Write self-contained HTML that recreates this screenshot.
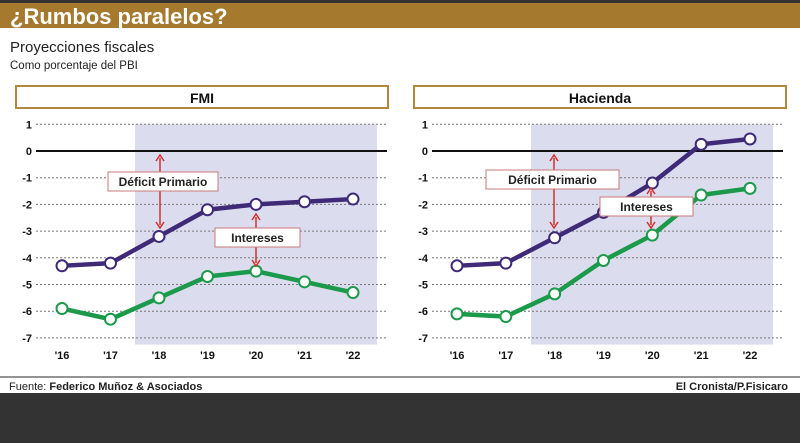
<!DOCTYPE html>
<html><head><meta charset="utf-8"><style>
body{margin:0;width:800px;height:443px;overflow:hidden;background:#fff;font-family:"Liberation Sans",sans-serif}
svg{display:block}
</style></head><body>
<svg id="c" width="800" height="443" xmlns="http://www.w3.org/2000/svg">
<rect x="0" y="0" width="800" height="3" fill="#333"/>
<rect x="0" y="3" width="800" height="25" fill="#a67a2e"/>
<text x="10" y="24" font-size="22" font-weight="bold" fill="#fff">¿Rumbos paralelos?</text>
<text x="10" y="52" font-size="15" fill="#222">Proyecciones fiscales</text>
<text x="10" y="69" font-size="11.5" fill="#222">Como porcentaje del PBI</text>
<line x1="0" y1="377" x2="800" y2="377" stroke="#555" stroke-width="1.2"/>
<text x="9" y="390" font-size="11" fill="#222">Fuente: <tspan font-weight="bold">Federico Muñoz &amp; Asociados</tspan></text>
<text x="788" y="390" font-size="11" font-weight="bold" fill="#222" text-anchor="end">El Cronista/P.Fisicaro</text>
<rect x="0" y="393" width="800" height="50" fill="#333"/>
<g id="panels"></g>
</svg>
<script>
const years = ["'16","'17","'18","'19","'20","'21","'22"];
const yTicks = [1,0,-1,-2,-3,-4,-5,-6,-7];
const fmiPrimario = [-4.3,-4.2,-3.2,-2.2,-2.0,-1.9,-1.8];
const fmiIntereses = [-5.9,-6.3,-5.5,-4.7,-4.5,-4.9,-5.3];
const hacPrimario = [-4.3,-4.2,-3.25,-2.3,-1.2,0.25,0.45];
const hacIntereses = [-6.1,-6.2,-5.35,-4.1,-3.15,-1.65,-1.4];
const NS="http://www.w3.org/2000/svg";
const root=document.getElementById('panels');
function mk(t,a,p){const e=document.createElementNS(NS,t);for(const k in a)e.setAttribute(k,a[k]);(p||root).appendChild(e);return e;}
function panel(cfg){
  const g=mk('g',{});
  
  
  const yS=v=>151-v*26.7;
  const xS=i=>cfg.x0+i*(cfg.x1-cfg.x0)/6;
  const hb=mk('rect',{x:cfg.bx,y:86,width:372,height:22,fill:'#fff',stroke:'#b08a3a','stroke-width':2},g);
  
  
  const ht=mk('text',{x:cfg.bx+186,y:103,'font-size':14,'font-weight':'bold','text-anchor':'middle',fill:'#111'},g);
  ht.textContent=cfg.title;
  
  
  const sh=mk('rect',{x:cfg.s0,y:yS(1),width:cfg.s1-cfg.s0,height:yS(-7.25)-yS(1),fill:'#dcdcef'},g);
  
  
  yTicks.forEach(v=>{
    const l=mk('line',{x1:cfg.gx0,x2:cfg.gx1,y1:yS(v),y2:yS(v),stroke:v===0?'#111':'#777','stroke-width':v===0?2:1,'stroke-dasharray':v===0?'':'2,2'},g);
    
    
    const t=mk('text',{x:cfg.gx0-4,y:yS(v)+4,'font-size':11,'font-weight':'bold','text-anchor':'end',fill:'#111'},g);
    t.textContent=v;
    
    
  });
  years.forEach((y,i)=>{
    const t=mk('text',{x:xS(i),y:359,'font-size':11,'font-weight':'bold','text-anchor':'middle',fill:'#111'},g);
    t.textContent=y;
    
    
  });
  [[cfg.pri,'#3f2a78','deficit-primario'],[cfg.int,'#1a9a4a','intereses']].forEach(([d,c,n])=>{
    const pl=mk('polyline',{points:d.map((v,i)=>xS(i)+','+yS(v)).join(' '),fill:'none',stroke:c,'stroke-width':4.5},g);
    
    
    d.forEach((v,i)=>{
      const ci=mk('circle',{cx:xS(i),cy:yS(v),r:5.5,fill:'#fff',stroke:c,'stroke-width':2},g);
      
      
    });
  });
  cfg.notes.forEach(a=>{
    const ar=mk('g',{},g);
    
    
    mk('line',{x1:a.ax,x2:a.ax,y1:a.ay0+3,y2:a.ay1-3,stroke:'#d2312b','stroke-width':1.5},ar);
    mk('path',{d:`M${a.ax-4},${a.ay0+6}L${a.ax},${a.ay0}L${a.ax+4},${a.ay0+6}M${a.ax-4},${a.ay1-6}L${a.ax},${a.ay1}L${a.ax+4},${a.ay1-6}`,fill:'none',stroke:'#d2312b','stroke-width':1.5},ar);
    const b=mk('rect',{x:a.x,y:a.y,width:a.w,height:19,fill:'#fff',stroke:'#c97a7a','stroke-width':1},g);
    
    
    const t=mk('text',{x:a.x+a.w/2,y:a.y+14,'font-size':12,'font-weight':'bold','text-anchor':'middle',fill:'#222'},g);
    t.textContent=a.t;
    
    
  });
}
panel({name:'fmi',title:'FMI',bx:16,x0:62,x1:353,s0:135,s1:377,gx0:36,gx1:387,pri:fmiPrimario,int:fmiIntereses,
 notes:[{t:'Déficit Primario',x:108,y:172,w:110,ax:160,ay0:155,ay1:228},{t:'Intereses',x:215,y:228,w:85,ax:256,ay0:214,ay1:266}]});
panel({name:'hacienda',title:'Hacienda',bx:414,x0:457,x1:750,s0:531,s1:773,gx0:432,gx1:783,pri:hacPrimario,int:hacIntereses,
 notes:[{t:'Déficit Primario',x:486,y:170,w:133,ax:554,ay0:155,ay1:228},{t:'Intereses',x:600,y:197,w:93,ax:651,ay0:188,ay1:228}]});
</script>
</body></html>
